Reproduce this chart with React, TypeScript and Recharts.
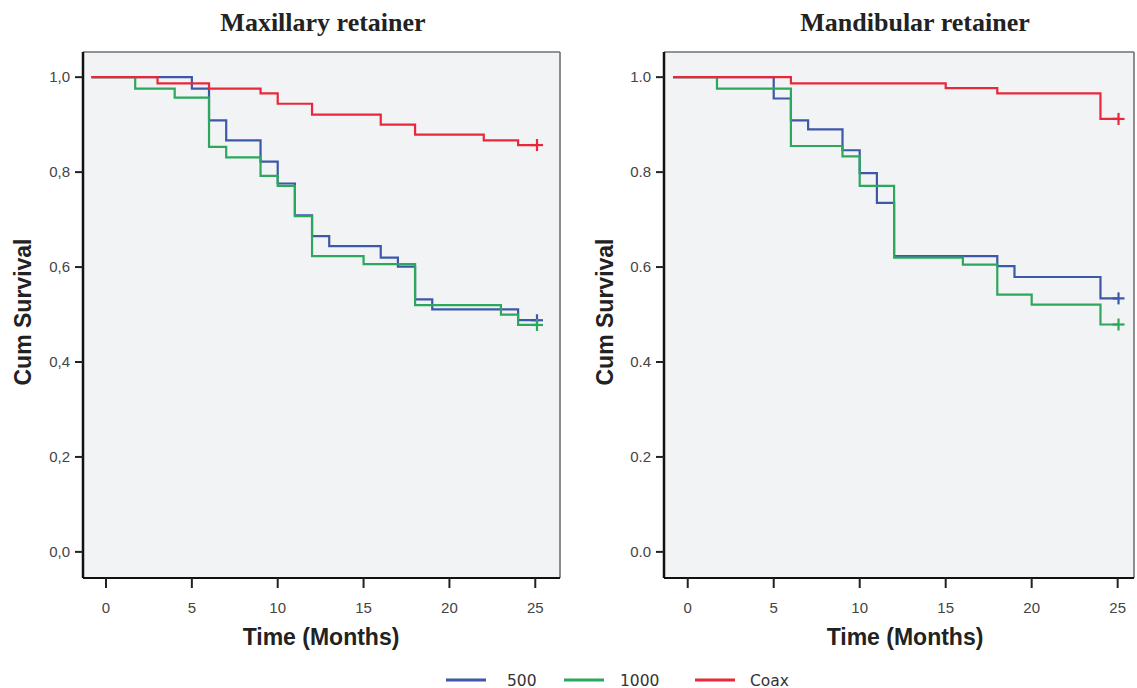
import React from 'react';
import { LineChart, Line, XAxis, YAxis, CartesianGrid, ReferenceLine } from 'recharts';

// ---------- data ----------
const X_TICKS = [0, 5, 10, 15, 20, 25];
const Y_TICKS = [0, 0.2, 0.4, 0.6, 0.8, 1.0];
const Y_LABELS_MAX = ['0,0', '0,2', '0,4', '0,6', '0,8', '1,0'];
const Y_LABELS_MAND = ['0.0', '0.2', '0.4', '0.6', '0.8', '1.0'];

const SERIES_NAMES = ['500', '1000', 'Coax'];
const SERIES_COLORS = ['#3c58a8', '#2ca85c', '#e8283a'];

// Maxillary retainer
const MAX_500_T = [-0.85, 5, 6, 7, 9, 10, 11, 12, 13, 16, 17, 18, 19, 24, 25.1];
const MAX_500_S = [1.0, 0.976, 0.909, 0.867, 0.822, 0.776, 0.709, 0.665, 0.644, 0.62, 0.601, 0.532, 0.511, 0.488, 0.488];
const MAX_1000_T = [-0.85, 1.7, 4, 6, 7, 9, 10, 11, 12, 15, 18, 23, 24, 25.1];
const MAX_1000_S = [1.0, 0.976, 0.957, 0.853, 0.831, 0.792, 0.771, 0.707, 0.623, 0.606, 0.52, 0.5, 0.478, 0.478];
const MAX_COAX_T = [-0.85, 3, 6, 9, 10, 12, 16, 18, 22, 24, 25.1];
const MAX_COAX_S = [1.0, 0.987, 0.976, 0.966, 0.944, 0.921, 0.9, 0.879, 0.867, 0.857, 0.857];

// Mandibular retainer
const MAND_500_T = [-0.85, 5, 6, 7, 9, 10, 11, 12, 18, 19, 24, 25.05];
const MAND_500_S = [1.0, 0.955, 0.909, 0.89, 0.846, 0.798, 0.735, 0.623, 0.602, 0.579, 0.534, 0.534];
const MAND_1000_T = [-0.85, 1.7, 6, 9, 10, 12, 16, 18, 20, 24, 25.05];
const MAND_1000_S = [1.0, 0.976, 0.855, 0.833, 0.771, 0.62, 0.605, 0.542, 0.521, 0.479, 0.479];
const MAND_COAX_T = [-0.85, 6, 15, 18, 24, 25.05];
const MAND_COAX_S = [1.0, 0.987, 0.977, 0.966, 0.912, 0.912];

const Y_DOMAIN: [number, number] = [-0.055, 1.053];

const zip = (t: number[], s: number[]) => t.map((v, i) => ({ t: v, s: s[i] }));

const MAX_SERIES = [zip(MAX_500_T, MAX_500_S), zip(MAX_1000_T, MAX_1000_S), zip(MAX_COAX_T, MAX_COAX_S)];
const MAND_SERIES = [zip(MAND_500_T, MAND_500_S), zip(MAND_1000_T, MAND_1000_S), zip(MAND_COAX_T, MAND_COAX_S)];

const SANS = '"Liberation Sans", Arial, sans-serif';
const SERIF = '"Liberation Serif", "Times New Roman", serif';

const censorDot = (lastIndex: number, color: string) => (props: any) => {
  const { cx, cy, index } = props;
  if (index !== lastIndex || cx == null || cy == null) return <g key={`d-${index}`} />;
  return (
    <g key={`d-${index}`}>
      <line x1={cx - 6} x2={cx + 6} y1={cy} y2={cy} stroke={color} strokeWidth={2.2} />
      <line x1={cx} x2={cx} y1={cy - 6} y2={cy + 6} stroke={color} strokeWidth={2.2} />
    </g>
  );
};

type PanelProps = {
  left: number;
  width: number;
  marginLeft: number;
  marginRight: number;
  xDomain: [number, number];
  yLabels: string[];
  series: { t: number; s: number }[][];
};

function Panel({ left, width, marginLeft, marginRight, xDomain, yLabels, series }: PanelProps) {
  return (
    <div style={{ position: 'absolute', left, top: 0 }}>
      <LineChart width={width} height={660} margin={{ top: 52, right: marginRight, bottom: 42, left: marginLeft }}>
        <CartesianGrid fill="#f2f3f5" horizontal={false} vertical={false} stroke="none" />
        <XAxis
          type="number"
          dataKey="t"
          domain={xDomain}
          ticks={X_TICKS}
          allowDataOverflow
          height={40}
          tickSize={10}
          tickMargin={14}
          axisLine={{ stroke: '#111', strokeWidth: 2 }}
          tickLine={{ stroke: '#222', strokeWidth: 2 }}
          tick={{ fontSize: 15, fill: '#444', fontFamily: SANS }}
        />
        <YAxis
          type="number"
          domain={Y_DOMAIN}
          ticks={Y_TICKS}
          allowDataOverflow
          width={50}
          tickSize={8}
          tickMargin={5}
          tickFormatter={(v: number) => yLabels[Y_TICKS.findIndex((x) => Math.abs(x - v) < 1e-9)]}
          axisLine={{ stroke: '#111', strokeWidth: 2.5 }}
          tickLine={{ stroke: '#222', strokeWidth: 2 }}
          tick={{ fontSize: 15, fill: '#444', fontFamily: SANS }}
        />
        <ReferenceLine y={Y_DOMAIN[1]} stroke="#707070" strokeWidth={1.6} />
        <ReferenceLine x={xDomain[1]} stroke="#707070" strokeWidth={1.6} />
        {series.map((d, i) => (
          <Line
            key={SERIES_NAMES[i]}
            data={d}
            dataKey="s"
            type="stepAfter"
            stroke={SERIES_COLORS[i]}
            strokeWidth={2.2}
            dot={censorDot(d.length - 1, SERIES_COLORS[i])}
            activeDot={false}
            isAnimationActive={false}
          />
        ))}
      </LineChart>
    </div>
  );
}

function Overlay() {
  const legendItems = [
    { line: 446, text: 507 },
    { line: 564, text: 620 },
    { line: 695, text: 750 },
  ];
  return (
    <svg width={1137} height={688} style={{ position: 'absolute', left: 0, top: 0, pointerEvents: 'none' }}>
      <text x={323} y={31} textAnchor="middle" fontFamily={SERIF} fontWeight="bold" fontSize={26} fill="#222">
        Maxillary retainer
      </text>
      <text x={915} y={31} textAnchor="middle" fontFamily={SERIF} fontWeight="bold" fontSize={26} fill="#222">
        Mandibular retainer
      </text>
      <text x={31} y={312} transform="rotate(-90, 31, 312)" textAnchor="middle" fontFamily={SANS} fontWeight="bold" fontSize={23} fill="#222">
        Cum Survival
      </text>
      <text x={613} y={312} transform="rotate(-90, 613, 312)" textAnchor="middle" fontFamily={SANS} fontWeight="bold" fontSize={23} fill="#222">
        Cum Survival
      </text>
      <text x={321} y={645} textAnchor="middle" fontFamily={SANS} fontWeight="bold" fontSize={23} fill="#222">
        Time (Months)
      </text>
      <text x={905} y={645} textAnchor="middle" fontFamily={SANS} fontWeight="bold" fontSize={23} fill="#222">
        Time (Months)
      </text>
      {SERIES_NAMES.map((n, i) => (
        <g key={n}>
          <line x1={legendItems[i].line} x2={legendItems[i].line + 40} y1={680} y2={680} stroke={SERIES_COLORS[i]} strokeWidth={3} />
          <text x={legendItems[i].text} y={685.5} fontFamily='"DejaVu Sans", Verdana, sans-serif' fontSize={15.5} fill="#333">
            {n}
          </text>
        </g>
      ))}
    </svg>
  );
}

export default function App() {
  return (
    <div style={{ position: 'fixed', left: 0, top: 0, width: 1137, height: 688, background: '#fff', overflow: 'hidden' }}>
      <Panel left={0} width={575} marginLeft={33} marginRight={15} xDomain={[-1.34, 26.44]} yLabels={Y_LABELS_MAX} series={MAX_SERIES} />
      <Panel left={575} width={562} marginLeft={39} marginRight={3} xDomain={[-1.38, 25.95]} yLabels={Y_LABELS_MAND} series={MAND_SERIES} />
      <Overlay />
    </div>
  );
}
